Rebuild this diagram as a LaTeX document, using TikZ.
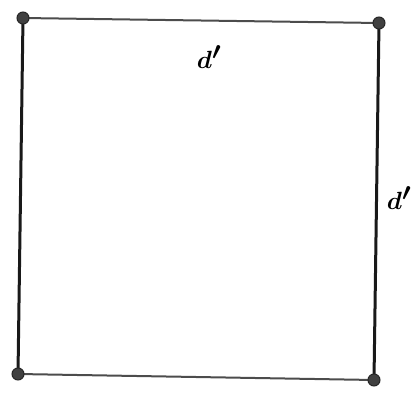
\documentclass[tikz,border=0pt]{standalone}
\begin{document}
\begin{tikzpicture}[x=1pt,y=1pt,
  edge/.style={line width=3pt,black!90},
  thinedge/.style={line width=2pt,black!70},
  corner/.style={circle,fill=black!75,draw=black!85,line width=1pt,inner sep=0pt,minimum size=12pt},
  lbl/.style={font=\fontsize{36}{38}\selectfont\boldmath}]
\useasboundingbox (0,0) rectangle (413,392);
\coordinate (A) at (23,374);
\coordinate (B) at (379,369);
\coordinate (C) at (18,18);
\coordinate (D) at (374,12);
\draw[thinedge] (A) -- (B);
\draw[edge] (B) -- (D);
\draw[thinedge] (C) -- (D);
\draw[edge] (A) -- (C);
\node[corner] (nA) at (A) {};
\node[corner] (nB) at (B) {};
\node[corner] (nC) at (C) {};
\node[corner] (nD) at (D) {};
\node[lbl] (t1) at (209,335) {$d'$};
\node[lbl] (t2) at (399,194) {$d'$};
\end{tikzpicture}
\end{document}
